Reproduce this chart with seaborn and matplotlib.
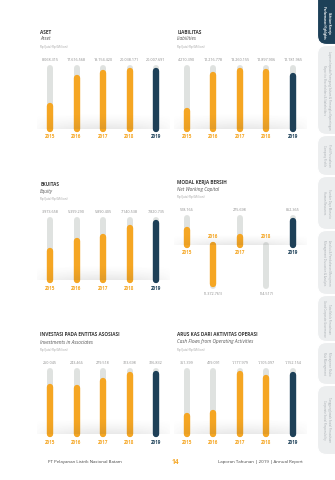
import numpy as np
import pandas as pd
import matplotlib
matplotlib.use("Agg")
import matplotlib.pyplot as plt
import seaborn as sns
from matplotlib.patches import FancyBboxPatch

sns.set_style("white")
plt.rcParams["font.family"] = ["Open Sans", "DejaVu Sans"]

###
# Data (Rp Juta / Rp Million)
###
years = [2015, 2016, 2017, 2018, 2019]
aset = [8068315, 17616568, 19154420, 20038171, 20007691]
liabilitas = [4210390, 12216778, 13260155, 12897906, 12181965]
ekuitas = [3973658, 5399290, 5890405, 7140538, 7820735]
modal_kerja = [518166, -1372761, 275698, -14517, 852365]
investasi = [250045, 243466, 279518, 313698, 316832]
arus_kas = [361399, 419091, 1177979, 1105097, 1152154]

ORANGE = "#f5a623"
NAVY = "#1d4058"
TRACK = "#dfe2e0"
GREY = "#8a8a8a"
PAL = {"past": ORANGE, "latest": NAVY}

W, H = 335, 480
fig = plt.figure(figsize=(W / 100, H / 100), dpi=100)


def fx(x):
    return x / W


def fy(y):
    return 1 - y / H


def fmt(v):
    s = f"{abs(v):,}".replace(",", ".")
    return f"({s})" if v < 0 else s


def add_shadow(ax, y0, y1):
    gv = np.linspace(1, 0, 60) ** 1.4
    gh = np.sin(np.linspace(0, np.pi, 120)) ** 0.6
    img = np.zeros((60, 120, 4))
    img[..., :3] = 0.3
    img[..., 3] = 0.13 * gv[:, None] * gh[None, :]
    ax.imshow(img, extent=(2014.35, 2019.65, y0, y1), origin="lower",
              aspect="auto", zorder=5, interpolation="bilinear")


def panel(left, top, bot, values, title, sub, lo=None, hi=None, shadow=None):
    ax = fig.add_axes([fx(left), fy(bot), 132.5 / W, (bot - top) / H])
    if hi is None:
        hi = max(values) * 1.05
    if lo is None:
        lo = 0

    tracks = pd.DataFrame({
        "year": np.repeat(years, 2),
        "v": [p for v in values for p in (0, hi if v >= 0 else lo)],
    })
    bars = pd.DataFrame({
        "year": np.repeat(years, 2),
        "v": [p for v in values for p in (0, v)],
        "kind": ["latest" if y == 2019 else "past" for y in np.repeat(years, 2)],
    })
    sns.lineplot(tracks, x="year", y="v", units="year", estimator=None, sort=False,
                 color=TRACK, lw=4.3, solid_capstyle="round", clip_on=False,
                 legend=False, ax=ax)
    sns.lineplot(bars, x="year", y="v", hue="kind", palette=PAL, units="year",
                 estimator=None, sort=False, lw=4.6, solid_capstyle="round",
                 clip_on=False, legend=False, ax=ax)

    add_shadow(ax, 0, shadow if shadow else hi * 0.25)

    for y, v in zip(years, values):
        c = NAVY if y == 2019 else ORANGE
        if v >= 0:
            ax.annotate(fmt(v), (y, hi), xytext=(0, 8), textcoords="offset pixels",
                        ha="center", va="center", fontsize=2.7, color=GREY,
                        annotation_clip=False)
            ax.annotate(str(y), (y, 0), xytext=(0, -8), textcoords="offset pixels",
                        ha="center", va="center", fontsize=3.3, color=c,
                        fontweight="bold", annotation_clip=False)
        else:
            ax.annotate(fmt(v), (y, lo), xytext=(0, -8), textcoords="offset pixels",
                        ha="center", va="center", fontsize=2.7, color=GREY,
                        annotation_clip=False)
            ax.annotate(str(y), (y, 0), xytext=(0, 8), textcoords="offset pixels",
                        ha="center", va="center", fontsize=3.3, color=c,
                        fontweight="bold", annotation_clip=False)

    ax.set_xlim(2014.5, 2019.5)
    ax.set_ylim(lo, hi)
    ax.set_axis_off()

    # headings
    tx = left + 3.5
    fig.text(fx(tx), fy(top - 36), title, fontsize=3.4, fontweight="bold",
             color="#3a3a3a", va="center")
    fig.text(fx(tx), fy(top - 29), sub, fontsize=3.4, style="italic",
             color="#555555", va="center")
    fig.text(fx(tx), fy(top - 21), "Rp (Juta) Rp (Million)", fontsize=2.2,
             color="#a0a0a0", va="center")
    return ax


L1, L2 = 36.75, 173.75
panel(L1, 68, 129, aset, "ASET", "Asset")
panel(L2, 68, 129, liabilitas, "LIABILITAS", "Liabilities")
panel(L1, 220, 280, ekuitas, "EKUITAS", "Equity")
panel(L2, 218, 286, modal_kerja, "MODAL KERJA BERSIH", "Net Working Capital",
      lo=-1450000, hi=950000, shadow=380000)
panel(L1, 371, 434, investasi, "INVESTASI PADA ENTITAS ASOSIASI",
      "Investments in Associates")
panel(L2, 371, 434, arus_kas, "ARUS KAS DARI AKTIVITAS OPERASI",
      "Cash Flows from Operating Activities")

# footer
fig.text(fx(48), fy(462), "PT Pelayanan Listrik Nasional Batam", fontsize=3.2,
         color="#444444", va="center")
fig.text(fx(175), fy(463), "14", fontsize=4.8, fontweight="bold", color=ORANGE,
         ha="center", va="center")
fig.text(fx(303), fy(462), "Laporan Tahunan | 2019 | Annual Report", fontsize=3.2,
         color="#444444", va="center", ha="right")

# side navigation tabs
tab_ax = fig.add_axes([fx(316), 0, 19 / W, 1])
tab_ax.set_xlim(0, 19)
tab_ax.set_ylim(H, 0)
tab_ax.set_axis_off()
tabs = [
    (-20, 45, "Ikhtisar Kinerja\nPerformance Highlights"),
    (45, 135, "Laporan kepada Pemegang Saham & Pemangku Kepentingan\nReport to Shareholders & Stakeholders"),
    (135, 176, "Profil Perusahaan\nCompany Profile"),
    (176, 230, "Sumber Daya Manusia\nHuman Resources"),
    (230, 295, "Analisis & Pembahasan Manajemen\nManagement Discussion & Analysis"),
    (295, 342, "Tata Kelola Perusahaan\nGood Corporate Governance"),
    (342, 385, "Manajemen Risiko\nRisk Management"),
    (385, 455, "Tanggung Jawab Sosial Perusahaan\nCorporate Social Responsibility"),
]
for i, (y0, y1, label) in enumerate(tabs):
    fc = NAVY if i == 0 else "#eceeef"
    tc = "white" if i == 0 else "#a3a8ad"
    tab_ax.add_patch(FancyBboxPatch((1.5, y0 + 0.5), 30, y1 - y0 - 1,
                                    boxstyle="round,pad=0,rounding_size=9",
                                    fc=fc, ec="white", lw=0.8, clip_on=True))
    tab_ax.text(10.5, (max(y0, 0) + y1) / 2, label, rotation=-90, ha="center",
                va="center", fontsize=2.0, color=tc, linespacing=1.3,
                fontweight="bold" if i == 0 else "normal")

fig.savefig("out.png", dpi=100)
